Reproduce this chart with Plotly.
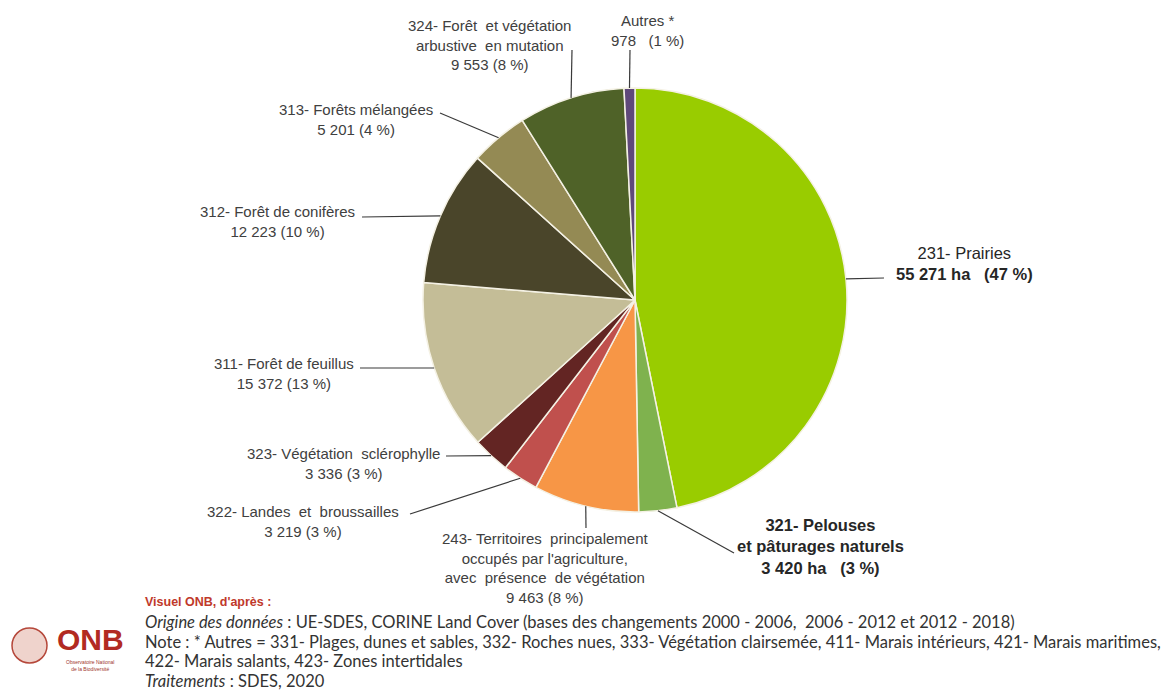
import math
import plotly.graph_objects as go

W, H = 1171, 697

# ---------------- data ----------------
codes = [
    "231- Prairies",
    "321- Pelouses<br>et pâturages naturels",
    "243- Territoires  principalement<br>occupés par l'agriculture,<br>avec  présence  de végétation",
    "322- Landes  et  broussailles",
    "323- Végétation  sclérophylle",
    "311- Forêt de feuillus",
    "312- Forêt de conifères",
    "313- Forêts mélangées",
    "324- Forêt  et végétation<br>arbustive  en mutation",
    "Autres *",
]
values_ha = [55271, 3420, 9463, 3219, 3336, 15372, 12223, 5201, 9553, 978]
percents = [47, 3, 8, 3, 3, 13, 10, 4, 8, 1]
colors = ["#99CC00", "#7FB24E", "#F79646", "#C0504D", "#632523",
          "#C4BD97", "#4A452A", "#948A54", "#4F6228", "#5F497A"]

footer_lines = [
    "<i>Origine des données</i> : UE-SDES, CORINE Land Cover (bases des changements 2000 - 2006,  2006 - 2012 et 2012 - 2018)",
    "Note : * Autres = 331- Plages, dunes et sables, 332- Roches nues, 333- Végétation clairsemée, 411- Marais intérieurs, 421- Marais maritimes,",
    "422- Marais salants, 423- Zones intertidales",
    "<i>Traitements</i> : SDES, 2020",
]

# ---------------- layout (pixels) ----------------
CX, CY, R = 635, 300, 212
label_pos = [(964, 263), (820, 546), (545, 568), (303, 521), (343, 463),
             (284, 373), (277, 222), (356, 120), (489, 45), (647, 31)]
line_end = [(884, 278), (734, 553), (586, 528), (410, 514), (446, 456),
            (360, 368), (362, 217), (440, 113), (572, 50), (630, 50)]


def px(x):
    return x / W


def py(y):
    return 1 - y / H


def fmt(v):
    return f"{v:,}".replace(",", "\u00a0")


NB = "\u00a0"
texts = []
for i, (c, v, p) in enumerate(zip(codes, values_ha, percents)):
    if i == 0:
        texts.append(f"{c}<br><b>{fmt(v)} ha{NB*3}({p} %)</b>")
    elif i == 1:
        texts.append(f"<b>{c}<br>{fmt(v)} ha{NB*3}({p} %)</b>")
    elif i == 9:
        texts.append(f"{c}<br>{fmt(v)}{NB*3}({p} %)")
    else:
        texts.append(f"{c}<br>{fmt(v)} ({p} %)")

fig = go.Figure()
fig.add_trace(go.Pie(
    values=values_ha,
    labels=[c.replace("<br>", " ") for c in codes],
    sort=False,
    direction="clockwise",
    rotation=0,
    textinfo="none",
    hoverinfo="label+value+percent",
    marker=dict(colors=colors, line=dict(color="#F4F1E4", width=1.5)),
    domain=dict(x=[px(CX - R), px(CX + R)], y=[py(CY + R), py(CY - R)]),
    showlegend=False,
))

total = sum(values_ha)
cum = 0
shapes = []
annotations = []
for i, v in enumerate(values_ha):
    theta = math.radians(360 * (cum + v / 2) / total)
    cum += v
    ex = CX + R * math.sin(theta)
    ey = CY - R * math.cos(theta)
    lx, ly = line_end[i]
    shapes.append(dict(type="line", xref="paper", yref="paper",
                       x0=px(ex), y0=py(ey), x1=px(lx), y1=py(ly),
                       line=dict(color="#3A3A3A", width=1.2)))
    big = i in (0, 1)
    annotations.append(dict(
        x=px(label_pos[i][0]), y=py(label_pos[i][1]), xref="paper", yref="paper",
        text=texts[i], showarrow=False, xanchor="center", yanchor="middle",
        align="center",
        font=dict(family="Liberation Sans, Arial, sans-serif",
                  size=16.5 if big else 15, color="#262626" if big else "#404040"),
    ))

# footer
annotations.append(dict(
    x=px(143), y=py(602), xref="paper", yref="paper", xanchor="left", yanchor="middle",
    text="<b>Visuel ONB, d'après :</b>", showarrow=False,
    font=dict(family="Liberation Sans Narrow, Arial Narrow, sans-serif", size=12.5, color="#C0392B"),
))
for k, line in enumerate(footer_lines):
    annotations.append(dict(
        x=px(143), y=py(622 + 19.5 * k), xref="paper", yref="paper", xanchor="left",
        yanchor="middle", text=line, showarrow=False,
        font=dict(family="Lato, sans-serif", size=16.5, color="#333333"),
    ))

# logo
shapes.append(dict(type="circle", xref="paper", yref="paper",
                   x0=px(12), x1=px(47), y0=py(663), y1=py(628),
                   fillcolor="#EFD3CC", line=dict(color="#B5473A", width=1.5)))
annotations.append(dict(
    x=px(90), y=py(639), xref="paper", yref="paper", xanchor="center", yanchor="middle",
    text="<b>ONB</b>", showarrow=False,
    font=dict(family="Liberation Sans Narrow, Arial Narrow, sans-serif", size=30, color="#B22A22"),
))
annotations.append(dict(
    x=px(90), y=py(665), xref="paper", yref="paper", xanchor="center", yanchor="middle",
    text="Observatoire National<br>de la Biodiversité", showarrow=False,
    font=dict(family="Liberation Sans Narrow, sans-serif", size=5, color="#A0352B"),
))

fig.update_layout(
    width=W, height=H,
    margin=dict(l=0, r=0, t=0, b=0),
    paper_bgcolor="white", plot_bgcolor="white",
    shapes=shapes, annotations=annotations,
)

fig.write_html("out.html")
